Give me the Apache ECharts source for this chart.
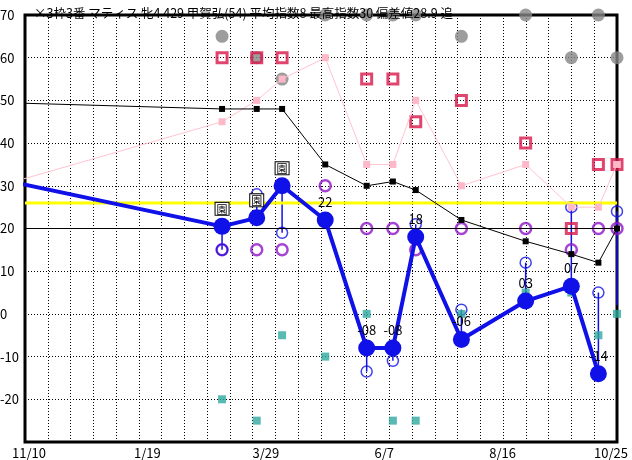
<!DOCTYPE html>
<html><head><meta charset="utf-8">
<script src="https://cdn.jsdelivr.net/npm/echarts@6/dist/echarts.min.js"></script>
<style>html,body{margin:0;padding:0;background:#fff}#c{width:632px;height:460px}</style>
</head><body><div id="c"></div>
<script>
const titleText = '×3枠3番 マティス 牝4 429 甲賀弘(54) 平均指数8 最高指数30 偏差値28.9 追';
const xTickLabels = ['11/10','1/19','3/29','6/7','8/16','10/25'];
const raceDays = [116.5,137,152,177.5,202,217.5,231,258,296,323,339,350];
const prevDay = -15;
const indexValues = [20.5,22.5,30,22,-8,-8,18,-6,3,6.5,-14];
const prevIndex = 31.5;
const indexLabels = ['園','園','園','22','-08','-08','18','-06','03','07','-14'];
const rangeValues = [15,28,19,22,-13.5,-11,21,1,12,25,5,24];
const lastRangeEnd = 2;
const purpleValues = [15,15,15,30,20,20,15,20,20,15,20,20];
const redValues = [60,60,60,null,55,55,45,50,40,20,35,35];
const grayValues = [65,60,55,70,70,70,70,65,70,60,70,60];
const tealValues = [-20,-25,-5,-10,0,-25,-25,0,5,5,-5,0];
const blackValues = [48,48,48,35,30,31,29,22,17,14,12,20];
const prevBlack = 49.5;
const pinkValues = [45,50,55,60,35,35,50,30,35,25,25,35];
const prevPink = 30;
const averageLine = 26;
const refLine = 20;
const yTicks = [-30,70,10];

const FONT = '"Noto Sans CJK JP", sans-serif';
const pts = (vals) => vals.map((v,i)=> v==null ? null : [raceDays[i], v]).filter(p=>p);
const hiddenPrev = (d, v) => ({value:[d, v], symbol:'none', label:{show:false}});

const chart = echarts.init(document.getElementById('c'), null, {renderer:'canvas'});

const rangeData = raceDays.map((d,i)=>{
  const a = i < indexValues.length ? indexValues[i] : lastRangeEnd;
  return [d, a, rangeValues[i]];
});

const blueData = [hiddenPrev(prevDay, prevIndex)]
  .concat(indexValues.map((v,i)=>({value:[raceDays[i], v], lab: indexLabels[i]})));

const option = {
  animation:false,
  backgroundColor:'#fff',
  title:{text:titleText, left:29, top:2, textStyle:{fontFamily:FONT, fontSize:12.5, fontWeight:'normal', color:'#000'}},
  grid:{left:25, right:15, top:15, bottom:18, containLabel:false, outerBoundsMode:'none',
        show:true, borderColor:'#000', borderWidth:3, backgroundColor:'transparent'},
  xAxis:[
    {type:'value', min:0, max:350, interval:70,
     axisLine:{show:false}, axisTick:{show:false}, splitLine:{show:false},
     axisLabel:{margin:5, fontFamily:FONT, fontSize:13, color:'#000', padding:[0,0,0,8], hideOverlap:false,
       alignMaxLabel:'right',
       formatter:(v)=> { const i = Math.round(v/70); const t = xTickLabels[i] || ''; return i === xTickLabels.length-1 ? '{m|'+t+'}' : t; },
       rich:{m:{fontFamily:FONT, fontSize:13, color:'#000', padding:[0,-11,0,0]}}}},
    {type:'value', min:0, max:26, interval:1, position:'bottom',
     axisLine:{show:false}, axisTick:{show:false}, axisLabel:{show:false},
     splitLine:{show:true, lineStyle:{color:'#000', type:[1,2], width:1}}}
  ],
  yAxis:{type:'value', min:yTicks[0], max:yTicks[1], interval:yTicks[2],
    axisLine:{show:false}, axisTick:{show:false},
    axisLabel:{align:'left', margin:25, fontFamily:FONT, fontSize:13, color:'#000',
      formatter:(v)=> v===yTicks[0] ? '' : String(v)},
    splitLine:{show:true, lineStyle:{color:'#000', type:[1,2], width:1}}},
  series:[
    {type:'line', data:[[0,averageLine],[350,averageLine]], symbol:'none', lineStyle:{color:'#ffff00', width:3}, silent:true},
    {type:'line', data:[[0,refLine],[350,refLine]], symbol:'none', lineStyle:{color:'#000', width:1}, silent:true},
    {type:'scatter', data:pts(grayValues), symbol:'circle', symbolSize:13, itemStyle:{color:'#858585'}, clip:false},
    {type:'line', data:[hiddenPrev(prevDay, prevPink)].concat(pts(pinkValues)), symbol:'rect', symbolSize:7, showAllSymbol:true,
     itemStyle:{color:'#ffb8c8'}, lineStyle:{color:'#ffc4d0', width:1}, clip:false},
    {type:'line', data:[hiddenPrev(prevDay, prevBlack)].concat(pts(blackValues)), symbol:'rect', symbolSize:6, showAllSymbol:true,
     itemStyle:{color:'#000'}, lineStyle:{color:'#000', width:1}, clip:false},
    {type:'scatter', data:pts(redValues), symbol:'rect', symbolSize:10,
     itemStyle:{color:'rgba(0,0,0,0)', borderColor:'#d8174a', borderWidth:3}},
    {type:'scatter', data:pts(purpleValues), symbol:'circle', symbolSize:11,
     itemStyle:{color:'rgba(0,0,0,0)', borderColor:'#8e14c8', borderWidth:2.5}},
    {type:'custom', data:rangeData, renderItem:(params, api)=>{
       const p1 = api.coord([api.value(0), api.value(1)]);
       const p2 = api.coord([api.value(0), api.value(2)]);
       return {type:'line', shape:{x1:p1[0], y1:p1[1], x2:p2[0], y2:p2[1]}, style:{stroke:'#1010e8', lineWidth:1.5}};
     }, encode:{x:0, y:[1,2]}},
    {type:'scatter', data:pts(rangeValues), symbol:'circle', symbolSize:11,
     itemStyle:{color:'rgba(0,0,0,0)', borderColor:'#1010e8', borderWidth:1.5}},
    {type:'scatter', data:pts(tealValues), symbol:'rect', symbolSize:8, itemStyle:{color:'#2fa8a0'}},
    {type:'line', data:blueData, symbol:'circle', symbolSize:17, showAllSymbol:true, clip:false,
     itemStyle:{color:'#1010e8'}, lineStyle:{color:'#1010e8', width:4},
     label:{show:true, position:'top', distance:3, fontFamily:FONT, fontSize:13, color:'#000',
       formatter:(p)=>{ const l = p.data.lab; if(l==='園') return '{b|園}'; return l; },
       rich:{b:{fontFamily:FONT, fontSize:11, borderColor:'#000', borderWidth:1, backgroundColor:'#fff', padding:[1,1,0,1], color:'#000'}}}}
  ]
};
chart.setOption(option);
</script></body></html>
